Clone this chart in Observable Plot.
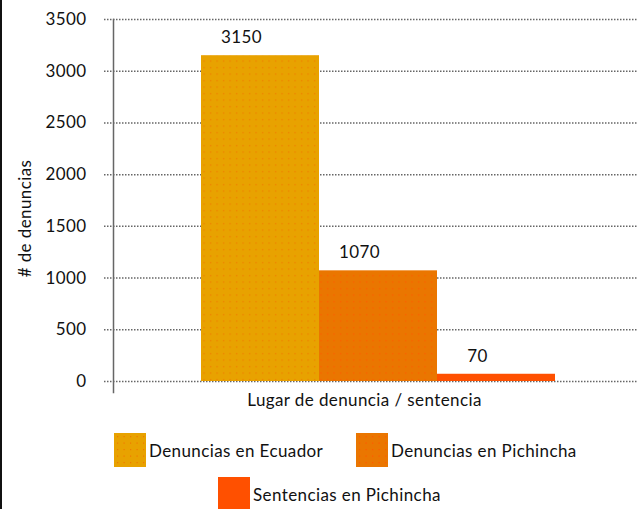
<!DOCTYPE html>
<html>
<head>
<meta charset="utf-8">
<script src="https://cdn.jsdelivr.net/npm/d3@7"></script>
<script src="https://cdn.jsdelivr.net/npm/@observablehq/plot@0.6"></script>
<style>
  html, body { margin: 0; padding: 0; background: #fff; }
  body { width: 637px; height: 509px; overflow: hidden; position: relative; border-left: 2px solid #111; box-sizing: border-box; }
  #chart { position: absolute; left: -2px; top: 0; }
  #chart text { letter-spacing: 0.4px; }
  .legend { position: absolute; left: -2px; top: 0; width: 637px; font-family: Lato, "Open Sans", sans-serif; font-size: 17px; letter-spacing: 0.4px; color: #111; }
  .item { position: absolute; display: flex; align-items: center; white-space: nowrap; }
  .sw { width: 32px; height: 34px; margin-right: 3px; flex: none; }
</style>
</head>
<body>
<div id="chart"></div>
<div class="legend" id="legend"></div>
<script>
const series = ["Denuncias en Ecuador", "Denuncias en Pichincha", "Sentencias en Pichincha"];
const values = [3150, 1070, 70];
const yTicks = [0, 500, 1000, 1500, 2000, 2500, 3000, 3500];
const baseColors = ["#e8a200", "#ea7600", "#ff5000"];
const dotColors = ["#f07a00", "#ff5a00", null];
const xLabel = ["Lugar de denuncia / sentencia"];
const yLabel = ["# de denuncias"];

const fills = baseColors.map((c, i) => dotColors[i] ? `url(#pat${i})` : c);
const data = series.map((s, i) => ({series: s, value: values[i], fill: fills[i]}));

const font = "Lato, 'Open Sans', sans-serif";
const gridStroke = "#666";

const chart = Plot.plot({
  width: 637,
  height: 430,
  marginLeft: 113,
  marginRight: 0,
  marginTop: 19,
  marginBottom: 49,
  style: {fontFamily: font, fontSize: "17px", color: "#111", background: "transparent"},
  x: {domain: series, paddingInner: 0, paddingOuter: 0.708, align: 0.52, axis: null},
  y: {domain: [0, 3500], axis: null},
  color: {type: "identity"},
  marks: [
    Plot.ruleY(yTicks, {stroke: gridStroke, strokeWidth: 1.5, strokeDasharray: "1.5 1.5", insetLeft: -9}),
    Plot.barY(data, {x: "series", y: "value", fill: "fill"}),
    Plot.frame({anchor: "left", stroke: gridStroke, strokeWidth: 1.5, strokeDasharray: "1.5 1.5", insetBottom: -11}),
    Plot.axisY({ticks: yTicks, tickSize: 0, tickPadding: 27, label: null, fontSize: 17, tickFormat: d => String(d)}),
    Plot.text(data, {x: "series", y: "value", text: d => String(d.value), dx: -19, dy: -18, fontSize: 17, fill: "#111"}),
    Plot.text(xLabel, {frameAnchor: "bottom", dy: 24, fontSize: 17, fill: "#111", dx: -11}),
    Plot.text(yLabel, {frameAnchor: "left", textAnchor: "middle", rotate: -90, dx: -88, dy: 18, fontSize: 17, fill: "#111"})
  ]
});

// dotted pattern fills
const svg = d3.select(chart.tagName.toLowerCase() === "svg" ? chart : chart.querySelector("svg"));
const defs = svg.insert("defs", ":first-child");
baseColors.forEach((c, i) => {
  if (!dotColors[i]) return;
  const p = defs.append("pattern").attr("id", `pat${i}`).attr("patternUnits", "userSpaceOnUse")
    .attr("width", 6.5).attr("height", 6.5);
  p.append("rect").attr("width", 6.5).attr("height", 6.5).attr("fill", c);
  p.append("rect").attr("x", 2).attr("y", 2).attr("width", 1.2).attr("height", 1.2).attr("fill", dotColors[i]);
});
document.getElementById("chart").appendChild(chart);

// legend
const legendPos = [[114, 433], [356, 433], [218, 477]];
const legend = d3.select("#legend");
series.forEach((s, i) => {
  const it = legend.append("div").attr("class", "item")
    .style("left", legendPos[i][0] + "px").style("top", legendPos[i][1] + "px");
  const sw = it.append("svg").attr("class", "sw").attr("width", 32).attr("height", 34);
  sw.append("rect").attr("width", 32).attr("height", 34).attr("fill", baseColors[i]);
  if (dotColors[i]) {
    for (let x = 3; x < 32; x += 6.5) for (let y = 3; y < 34; y += 6.5)
      sw.append("rect").attr("x", x).attr("y", y).attr("width", 1.2).attr("height", 1.2).attr("fill", dotColors[i]);
  }
  it.append("span").text(s);
});
</script>
</body>
</html>
